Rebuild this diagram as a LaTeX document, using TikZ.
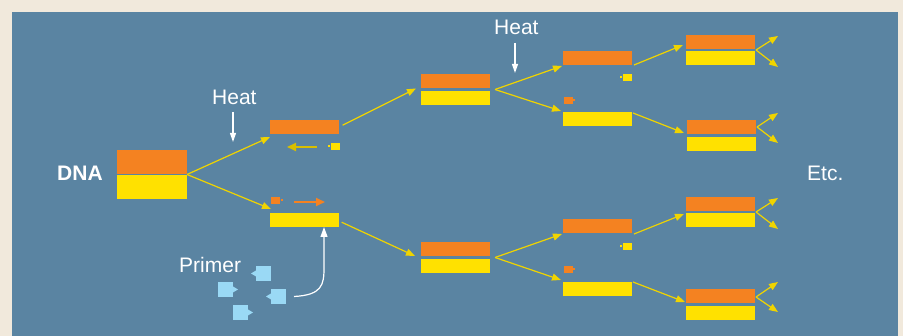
\documentclass[tikz,border=0pt]{standalone}
\usepackage{fontspec}
\setmainfont{Liberation Sans}
\usetikzlibrary{arrows.meta,calc}
\definecolor{bgcream}{HTML}{F1E9DC}
\definecolor{panelblue}{HTML}{5A84A2}
\definecolor{strandor}{HTML}{F48221}
\definecolor{strandyl}{HTML}{FFE100}
\definecolor{linkyl}{HTML}{F0D400}
\definecolor{primerblue}{HTML}{9AD9F5}

\begin{document}
\begin{tikzpicture}[x=1pt,y=-1pt,
  bar/.style={draw=none,inner sep=0pt,outer sep=0pt,minimum width=69pt,minimum height=14pt,anchor=north west},
  obar/.style={bar,fill=strandor},
  ybar/.style={bar,fill=strandyl},
  chip/.style={draw=none,inner sep=0pt,outer sep=0pt,minimum width=9pt,minimum height=7pt,anchor=north west},
  pchip/.style={draw=none,fill=primerblue,inner sep=0pt,outer sep=0pt,minimum size=15pt,anchor=north west},
  link/.style={draw=linkyl,line width=1.2pt,-{Triangle[length=9pt,width=7pt]}},
  heatarrow/.style={draw=white,line width=1.2pt,-{Triangle[length=9pt,width=6pt]}},
  lbl/.style={text=white,inner sep=0pt,font=\fontsize{21}{25}\selectfont},
]
% background and panel
\fill[bgcream] (0,0) rectangle (903,336);
\fill[panelblue] (12,12) rectangle (898,336);
\useasboundingbox (0,0) rectangle (903,336);

% original DNA
\node[bar,fill=strandor,minimum width=70pt,minimum height=24pt] (dnaO) at (117,150) {};
\node[bar,fill=strandyl,minimum width=70pt,minimum height=24pt] (dnaY) at (117,175) {};
\node[lbl,font=\fontsize{21}{25}\selectfont\bfseries,anchor=base west] (dnalbl) at (57,181) {DNA};
\coordinate (dnasplit) at ($(dnaO.south east)!0.5!(dnaY.north east)$);

% first heating: separated strands
\node[obar] (t1o) at (270,120) {};
\node[ybar] (b1y) at (270,213) {};
\node[chip,fill=strandyl] (t1chip) at (331,143) {};
\fill[strandyl] (328,145.5) rectangle (330,147.5);
\node[chip,fill=strandor] (b1chip) at (271,197) {};
\fill[strandor] (281,199.5) rectangle (283,201.5);
\coordinate (t1from) at (317,147);
\coordinate (t1to) at (287,147);
\draw[draw=linkyl!90!black,line width=2pt,-{Triangle[length=9pt,width=8pt]}] (t1from) -- (t1to);
\coordinate (b1from) at (294,202);
\coordinate (b1to) at (325,202);
\draw[draw=strandor,line width=2pt,-{Triangle[length=9pt,width=8pt]}] (b1from) -- (b1to);

\node[lbl,anchor=base west] (heatA) at (212,105) {Heat};
\coordinate (heatAend) at (233,142);
\draw[heatarrow] (233,112) -- (heatAend);

% primers
\node[lbl,anchor=base west] (primerlbl) at (179,273) {Primer};
\node[pchip] (pr1) at (256,266) {};
\node[pchip] (pr2) at (218,282) {};
\node[pchip] (pr3) at (271,289) {};
\node[pchip] (pr4) at (233,305) {};
\fill[primerblue] (pr1.west) ++(0,-3) -- ++(-5,3) -- ++(5,3) -- cycle;
\fill[primerblue] (pr2.east) ++(0,-3) -- ++(5,3) -- ++(-5,3) -- cycle;
\fill[primerblue] (pr3.west) ++(0,-3) -- ++(-5,3) -- ++(5,3) -- cycle;
\fill[primerblue] (pr4.east) ++(0,-3) -- ++(5,3) -- ++(-5,3) -- cycle;
\draw[draw=white,line width=1.2pt,-{Triangle[length=10pt,width=7pt]}]
  ([xshift=8pt]pr3.east) .. controls (322,295) and (324,285) .. (324,268) -- (b1y.south -| 324,0);

% second generation
\node[obar] (t2o) at (421,74) {};
\node[ybar] (t2y) at (421,91) {};
\node[obar] (b2o) at (421,242) {};
\node[ybar] (b2y) at (421,259) {};
\coordinate (t2mid) at ($(t2o.south east)!0.5!(t2y.north east)$);
\coordinate (b2mid) at ($(b2o.south east)!0.5!(b2y.north east)$);

\node[lbl,anchor=base west] (heatB) at (494,35) {Heat};
\coordinate (heatBend) at (515,73);
\draw[heatarrow] (515,43) -- (heatBend);

% third generation
\node[obar] (t3o) at (563,51) {};
\node[ybar] (t3y) at (563,112) {};
\node[chip,fill=strandyl] (t3c1) at (623,74) {};
\fill[strandyl] (619.5,76.5) rectangle (621.5,78.5);
\node[chip,fill=strandor] (t3c2) at (564,97) {};
\fill[strandor] (573,99.5) rectangle (575,101.5);

\node[obar] (b3o) at (563,219) {};
\node[ybar] (b3y) at (563,282) {};
\node[chip,fill=strandyl] (b3c1) at (623,243) {};
\fill[strandyl] (619.5,245.5) rectangle (621.5,247.5);
\node[chip,fill=strandor] (b3c2) at (564,266) {};
\fill[strandor] (573,268.5) rectangle (575,270.5);

% fourth generation
\node[obar] (p1o) at (686,35) {};
\node[ybar] (p1y) at (686,51) {};
\node[obar] (p2o) at (687,120) {};
\node[ybar] (p2y) at (687,137) {};
\node[obar] (p3o) at (686,197) {};
\node[ybar] (p3y) at (686,213) {};
\node[obar] (p4o) at (686,289) {};
\node[ybar] (p4y) at (686,306) {};

\node[lbl,anchor=base west] (etc) at (807,181) {Etc.};

% connectors between generations (shifts are in page points: positive yshift is upward)
\draw[link] (dnasplit) -- ([yshift=-3pt]t1o.south west);
\draw[link] (dnasplit) -- ([xshift=1pt,yshift=4pt]b1y.north west);
\draw[link,shorten <=4pt] (t1o.east) -- ([xshift=-5pt,yshift=-0.5pt]t2o.south west);
\draw[link,shorten <=3pt] ([yshift=-1pt]b1y.east) -- ([xshift=-6pt]b2o.south west);
\draw[link] ([xshift=5pt]t2mid) -- ([xshift=-1pt,yshift=-1pt]t3o.south west);
\draw[link] ([xshift=5pt]t2mid) -- ([xshift=-2pt,yshift=1pt]t3y.north west);
\draw[link] ([xshift=5pt]b2mid) -- ([xshift=-1pt,yshift=-1pt]b3o.south west);
\draw[link] ([xshift=5pt]b2mid) -- ([xshift=-2pt,yshift=2pt]b3y.north west);
\draw[link] ([xshift=2pt]t3o.south east) -- ([xshift=-3pt,yshift=4pt]p1o.south west);
\draw[link] ([xshift=1pt,yshift=-1pt]t3y.north east) -- ([xshift=-3pt,yshift=1pt]p2o.south west);
\draw[link] ([xshift=2pt,yshift=-1pt]b3o.south east) -- ([xshift=-2pt,yshift=-3pt]p3o.south west);
\draw[link] ([xshift=1pt]b3y.north east) -- ([xshift=-1pt,yshift=4pt]p4y.north west);

% onward branching
\coordinate (p1u) at (778,36);  \coordinate (p1d) at (778,67);
\coordinate (p2u) at (778,113); \coordinate (p2d) at (778,143);
\coordinate (p3u) at (778,198); \coordinate (p3d) at (778,229);
\coordinate (p4u) at (778,282); \coordinate (p4d) at (778,312);
\coordinate (p1fork) at ([xshift=1pt,yshift=-15pt]p1o.north east);
\coordinate (p2fork) at ([xshift=1pt,yshift=-7pt]p2o.north east);
\coordinate (p3fork) at ([xshift=1pt,yshift=-15pt]p3o.north east);
\coordinate (p4fork) at ([xshift=1pt,yshift=-8pt]p4o.north east);
\draw[link] (p1fork) -- (p1u);
\draw[link] (p1fork) -- (p1d);
\draw[link] (p2fork) -- (p2u);
\draw[link] (p2fork) -- (p2d);
\draw[link] (p3fork) -- (p3u);
\draw[link] (p3fork) -- (p3d);
\draw[link] (p4fork) -- (p4u);
\draw[link] (p4fork) -- (p4d);
\end{tikzpicture}
\end{document}
